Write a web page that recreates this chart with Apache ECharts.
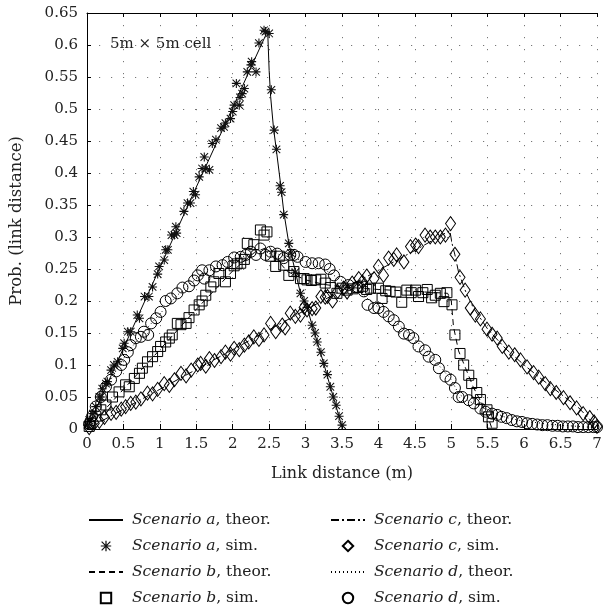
<!DOCTYPE html>
<html>
<head>
<meta charset="utf-8">
<script src="https://cdn.jsdelivr.net/npm/echarts@6/dist/echarts.min.js"></script>
<style>html,body{margin:0;padding:0;background:#fff}#c{width:609px;height:610px}</style>
</head>
<body>
<div id="c"></div>
<script>
// ---- data (x = link distance in m, y = probability) ----
const theorA = [[0,0],[0.5,0.126],[1,0.252],[1.5,0.378],[2,0.502],[2.25,0.565],[2.48,0.622],[2.5,0.56],[2.52,0.52],[2.56,0.47],[2.6,0.435],[2.66,0.38],[2.7,0.34],[2.77,0.29],[2.82,0.265],[2.93,0.212],[3.02,0.19],[3.09,0.162],[3.16,0.136],[3.25,0.102],[3.34,0.066],[3.42,0.035],[3.5,0.003]];
const simA = [[0.01,0.006],[0.03,0.014],[0.08,0.024],[0.12,0.035],[0.17,0.05],[0.19,0.05],[0.21,0.063],[0.26,0.071],[0.28,0.074],[0.33,0.092],[0.37,0.1],[0.42,0.105],[0.49,0.126],[0.51,0.134],[0.56,0.152],[0.6,0.152],[0.69,0.178],[0.72,0.173],[0.79,0.207],[0.85,0.207],[0.9,0.222],[0.97,0.242],[0.99,0.254],[1.06,0.264],[1.08,0.28],[1.11,0.28],[1.16,0.303],[1.2,0.303],[1.22,0.316],[1.23,0.306],[1.33,0.34],[1.38,0.353],[1.42,0.353],[1.46,0.371],[1.49,0.366],[1.54,0.394],[1.58,0.407],[1.61,0.425],[1.63,0.407],[1.68,0.405],[1.72,0.446],[1.77,0.452],[1.84,0.47],[1.88,0.472],[1.9,0.478],[1.97,0.485],[2.0,0.496],[2.02,0.506],[2.05,0.54],[2.09,0.506],[2.1,0.518],[2.13,0.524],[2.16,0.532],[2.2,0.558],[2.25,0.569],[2.26,0.574],[2.32,0.558],[2.36,0.603],[2.43,0.623],[2.45,0.621],[2.5,0.618],[2.53,0.53],[2.57,0.467],[2.6,0.437],[2.65,0.38],[2.67,0.37],[2.7,0.335],[2.77,0.29],[2.8,0.275],[2.86,0.245],[2.93,0.212],[2.98,0.2],[3.02,0.19],[3.09,0.162],[3.13,0.15],[3.16,0.136],[3.21,0.12],[3.25,0.1025],[3.3,0.085],[3.34,0.066],[3.38,0.05],[3.42,0.037],[3.46,0.02],[3.5,0.006]];
const theorB = [[0,0],[0.5,0.062],[1,0.124],[1.5,0.187],[2,0.247],[2.3,0.276],[2.5,0.285],[2.6,0.266],[2.75,0.246],[3,0.233],[3.25,0.226],[3.5,0.222],[4,0.218],[4.5,0.215],[4.95,0.212],[5.0,0.2],[5.03,0.16],[5.1,0.122],[5.2,0.094],[5.3,0.066],[5.4,0.044],[5.5,0.02],[5.56,0.0]];
const simB = [[0.03,0.004],[0.05,0.009],[0.12,0.02],[0.19,0.03],[0.26,0.0375],[0.35,0.05],[0.44,0.058],[0.53,0.069],[0.58,0.066],[0.65,0.079],[0.72,0.087],[0.76,0.095],[0.83,0.105],[0.9,0.113],[0.97,0.121],[1.01,0.129],[1.08,0.136],[1.13,0.142],[1.17,0.147],[1.24,0.165],[1.29,0.163],[1.36,0.165],[1.4,0.174],[1.47,0.186],[1.54,0.194],[1.58,0.2],[1.63,0.209],[1.7,0.222],[1.74,0.23],[1.81,0.243],[1.9,0.23],[1.97,0.243],[2.02,0.255],[2.06,0.258],[2.11,0.259],[2.16,0.265],[2.2,0.29],[2.29,0.288],[2.38,0.311],[2.43,0.303],[2.47,0.308],[2.52,0.27],[2.59,0.254],[2.64,0.27],[2.7,0.256],[2.77,0.24],[2.84,0.246],[2.93,0.235],[2.98,0.235],[3.02,0.233],[3.08,0.232],[3.14,0.233],[3.21,0.234],[3.27,0.228],[3.34,0.221],[3.43,0.212],[3.5,0.22],[3.57,0.217],[3.65,0.219],[3.72,0.221],[3.78,0.223],[3.84,0.218],[3.89,0.22],[4.0,0.22],[4.05,0.204],[4.1,0.216],[4.16,0.215],[4.24,0.214],[4.32,0.198],[4.39,0.217],[4.45,0.213],[4.51,0.217],[4.55,0.207],[4.61,0.213],[4.67,0.218],[4.73,0.205],[4.78,0.209],[4.85,0.212],[4.9,0.199],[4.94,0.213],[5.01,0.194],[5.05,0.147],[5.12,0.118],[5.17,0.1],[5.24,0.084],[5.28,0.071],[5.35,0.057],[5.4,0.046],[5.49,0.03],[5.51,0.019],[5.56,0.009]];
const theorC = [[0,0],[1,0.062],[2,0.124],[3,0.186],[4,0.248],[4.5,0.279],[4.98,0.31],[5.0,0.308],[5.01,0.29],[5.05,0.272],[5.1,0.245],[5.2,0.214],[5.3,0.19],[5.5,0.156],[5.75,0.125],[6,0.1],[6.25,0.077],[6.5,0.055],[6.75,0.033],[7,0.003]];
const simC = [[0.03,0.002],[0.1,0.009],[0.17,0.012],[0.24,0.018],[0.33,0.0245],[0.4,0.026],[0.47,0.031],[0.53,0.035],[0.6,0.04],[0.67,0.042],[0.74,0.047],[0.83,0.056],[0.9,0.055],[0.97,0.062],[1.06,0.071],[1.13,0.068],[1.2,0.077],[1.29,0.087],[1.36,0.083],[1.43,0.092],[1.52,0.1],[1.56,0.1025],[1.63,0.098],[1.68,0.11],[1.75,0.107],[1.84,0.113],[1.9,0.12],[1.97,0.117],[2.02,0.126],[2.09,0.124],[2.16,0.131],[2.22,0.136],[2.29,0.144],[2.36,0.14],[2.43,0.147],[2.52,0.165],[2.59,0.152],[2.68,0.1625],[2.72,0.158],[2.79,0.181],[2.86,0.176],[2.93,0.178],[2.98,0.19],[3.02,0.186],[3.09,0.188],[3.14,0.189],[3.21,0.207],[3.27,0.206],[3.3,0.207],[3.37,0.2],[3.44,0.215],[3.52,0.22],[3.57,0.214],[3.64,0.228],[3.73,0.235],[3.78,0.23],[3.84,0.239],[3.94,0.235],[4.0,0.254],[4.07,0.24],[4.14,0.267],[4.21,0.265],[4.25,0.272],[4.35,0.261],[4.44,0.285],[4.51,0.2875],[4.55,0.285],[4.64,0.303],[4.71,0.3],[4.78,0.3],[4.85,0.3],[4.92,0.303],[4.99,0.321],[5.05,0.273],[5.12,0.237],[5.19,0.217],[5.26,0.189],[5.33,0.178],[5.4,0.172],[5.49,0.156],[5.56,0.148],[5.63,0.142],[5.7,0.129],[5.79,0.12],[5.87,0.116],[5.95,0.108],[6.04,0.097],[6.13,0.088],[6.2,0.081],[6.29,0.071],[6.36,0.063],[6.44,0.057],[6.54,0.049],[6.63,0.041],[6.72,0.033],[6.81,0.024],[6.9,0.018],[6.96,0.011],[7.0,0.004]];
const theorD = [[0,0],[0.25,0.063],[0.5,0.11],[0.75,0.148],[1,0.18],[1.25,0.21],[1.5,0.235],[1.75,0.252],[2,0.265],[2.25,0.273],[2.5,0.276],[2.75,0.27],[3,0.262],[3.25,0.25],[3.5,0.232],[3.75,0.213],[4,0.19],[4.25,0.166],[4.5,0.14],[4.75,0.11],[5,0.077],[5.1,0.055],[5.25,0.043],[5.5,0.03],[5.75,0.018],[6,0.012],[6.5,0.006],[7,0.002]];
const simD = [[0.03,0.008],[0.07,0.02],[0.12,0.035],[0.19,0.05],[0.26,0.066],[0.33,0.077],[0.4,0.09],[0.47,0.1],[0.51,0.108],[0.56,0.12],[0.6,0.131],[0.67,0.142],[0.74,0.144],[0.78,0.152],[0.84,0.147],[0.88,0.165],[0.95,0.173],[1.01,0.183],[1.08,0.2],[1.15,0.204],[1.24,0.212],[1.31,0.221],[1.4,0.223],[1.47,0.232],[1.52,0.24],[1.58,0.248],[1.61,0.235],[1.68,0.248],[1.77,0.254],[1.86,0.256],[1.93,0.261],[2.02,0.268],[2.11,0.269],[2.18,0.272],[2.25,0.277],[2.32,0.272],[2.38,0.282],[2.45,0.272],[2.52,0.277],[2.61,0.274],[2.7,0.267],[2.79,0.272],[2.84,0.272],[2.89,0.269],[3.0,0.261],[3.09,0.259],[3.18,0.259],[3.27,0.257],[3.33,0.25],[3.39,0.24],[3.48,0.23],[3.59,0.225],[3.71,0.222],[3.8,0.215],[3.85,0.194],[3.94,0.189],[4.0,0.189],[4.07,0.183],[4.14,0.176],[4.21,0.17],[4.28,0.16],[4.35,0.149],[4.42,0.147],[4.48,0.142],[4.55,0.129],[4.64,0.123],[4.69,0.113],[4.78,0.108],[4.83,0.095],[4.92,0.082],[4.99,0.077],[5.05,0.064],[5.1,0.05],[5.15,0.05],[5.24,0.045],[5.31,0.04],[5.4,0.032],[5.47,0.027],[5.56,0.024],[5.63,0.022],[5.69,0.019],[5.76,0.017],[5.83,0.014],[5.9,0.012],[5.97,0.011],[6.04,0.009],[6.11,0.008],[6.18,0.007],[6.25,0.006],[6.32,0.006],[6.39,0.005],[6.46,0.005],[6.53,0.004],[6.6,0.004],[6.67,0.004],[6.74,0.003],[6.81,0.003],[6.88,0.003],[6.95,0.003],[7.0,0.003]];
const seriesNames = ['Scenario a, theor.','Scenario a, sim.','Scenario b, theor.','Scenario b, sim.','Scenario c, theor.','Scenario c, sim.','Scenario d, theor.','Scenario d, sim.'];
const xLabel = 'Link distance (m)';
const yLabel = 'Prob. (link distance)';
const noteText = '5m \u00d7 5m cell';

const FONT = 'DejaVu Serif';
const STAR = 'path://M4.4,0H5.6V10H4.4Z M0,4.4H10V5.6H0Z M1.2,0.4L9.6,8.8L8.8,9.6L0.4,1.2Z M8.8,0.4L9.6,1.2L1.2,9.6L0.4,8.8Z';
const hollow = {color:'rgba(0,0,0,0)', borderColor:'#000', borderWidth:1};
const hiddenLine = {color:'#000', opacity:0, width:1};

function theory(name, data, type){
  return {name, type:'line', data, symbol:'none', lineStyle:{color:'#000', width:1, type},
    itemStyle:{color:'#000'}, z:3, silent:true};
}
function sim(name, data, symbol, size, itemStyle){
  return {name, type:'line', data, symbol, symbolSize:size, showSymbol:true, showAllSymbol:true,
    lineStyle:hiddenLine, itemStyle, z:4, silent:true};
}
function fmt(name){
  const i = name.indexOf(',');
  return '{i|' + name.slice(0,i) + '}{n|' + name.slice(i) + '}';
}
const LFS = 15.5;
const legendText = {fontFamily:FONT, fontSize:LFS, color:'#222', lineHeight:18, padding:[0,0,0,4],
  rich:{i:{fontFamily:FONT, fontSize:LFS, fontStyle:'italic', color:'#222', lineHeight:18},
        n:{fontFamily:FONT, fontSize:LFS, color:'#222', lineHeight:18}}};
function legendData(names){
  return names.map(n => n.indexOf('sim') > -1
    ? {name:n, lineStyle:{opacity:0}}
    : {name:n, itemStyle:{opacity:0}});
}
const axisLbl = {fontFamily:FONT, fontSize:15, color:'#222'};
const split = {show:true, lineStyle:{color:'#777', width:1, type:[1.2,10.8]}};
const legendBase = {orient:'vertical', top:511, itemWidth:34, itemHeight:13, itemGap:8, padding:0,
  formatter:fmt, textStyle:legendText, selectedMode:false};

const chart = echarts.init(document.getElementById('c'), null, {renderer:'canvas'});
chart.setOption({
  animation:false,
  backgroundColor:'#fff',
  grid:{left:86, right:12, top:13, bottom:181, containLabel:false},
  xAxis:[{type:'value', min:0, max:7, interval:0.5, position:'bottom',
      axisLine:{show:true, onZero:false, lineStyle:{color:'#000', width:1}},
      axisTick:{show:true, inside:true, length:5, lineStyle:{color:'#000'}},
      axisLabel:Object.assign({margin:8}, axisLbl),
      splitLine:split,
      name:xLabel, nameLocation:'middle', nameGap:37, nameTextStyle:{fontFamily:FONT, fontSize:16, color:'#222'}},
    {type:'value', min:0, max:7, interval:0.5, position:'top',
      axisLine:{show:true, onZero:false, lineStyle:{color:'#000', width:1}},
      axisTick:{show:true, inside:true, length:4, lineStyle:{color:'#000'}},
      axisLabel:{show:false}, splitLine:{show:false}}],
  yAxis:{type:'value', min:0, max:0.65, interval:0.05,
    axisLine:{show:true, lineStyle:{color:'#000', width:1}},
    axisTick:{show:true, inside:true, length:4, lineStyle:{color:'#000'}},
    axisLabel:Object.assign({margin:9}, axisLbl),
    splitLine:split,
    name:yLabel, nameLocation:'middle', nameGap:62, nameTextStyle:{fontFamily:FONT, fontSize:16.5, color:'#222'}},
  legend:[
    Object.assign({data:legendData(seriesNames.slice(0,4)), left:88}, legendBase),
    Object.assign({data:legendData(seriesNames.slice(4,8)), left:330}, legendBase)],
  graphic:[{type:'text', left:110, top:37, silent:true,
    style:{text:noteText, fontFamily:FONT, fontSize:15, fill:'#222'}}],
  series:[
    theory(seriesNames[0], theorA, 'solid'),
    sim(seriesNames[1], simA, STAR, 9, {color:'#111'}),
    theory(seriesNames[2], theorB, [6,4]),
    sim(seriesNames[3], simB, 'rect', 10, hollow),
    theory(seriesNames[4], theorC, [8,3,2,3]),
    sim(seriesNames[5], simC, 'diamond', [10,14], hollow),
    theory(seriesNames[6], theorD, [1,3]),
    sim(seriesNames[7], simD, 'circle', 11, hollow)
  ]
});
</script>
</body>
</html>
